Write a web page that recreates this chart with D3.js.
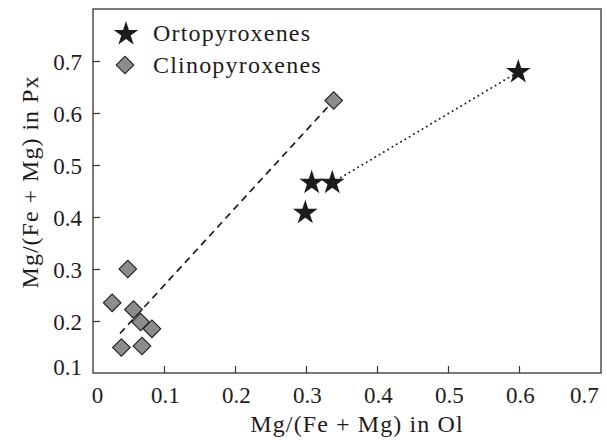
<!DOCTYPE html>
<html>
<head>
<meta charset="utf-8">
<script src="https://cdn.jsdelivr.net/npm/d3@7"></script>
<style>
  html, body { margin: 0; padding: 0; background: #fff; }
  svg text { font-family: "Liberation Serif", "Times New Roman", serif; fill: #1f1b1c; }
</style>
</head>
<body>
<svg id="chart" width="607" height="442"></svg>
<script>
// ---- data ----
const seriesNames = ["Ortopyroxenes", "Clinopyroxenes"];
const ortoX = [0.299, 0.308, 0.337, 0.599];
const ortoY = [0.408, 0.466, 0.466, 0.679];
const clinoX = [0.049, 0.027, 0.057, 0.067, 0.083, 0.040, 0.069, 0.339];
const clinoY = [0.300, 0.235, 0.222, 0.198, 0.185, 0.149, 0.152, 0.624];
const clinoFitX = [0.038, 0.339];
const clinoFitY = [0.176, 0.624];
const ortoFitX = [0.337, 0.599];
const ortoFitY = [0.466, 0.679];
const xTicks = [0, 0.1, 0.2, 0.3, 0.4, 0.5, 0.6, 0.7];
const yTicks = [0.1, 0.2, 0.3, 0.4, 0.5, 0.6, 0.7];
const xTitle = "Mg/(Fe + Mg) in Ol";
const yTitle = "Mg/(Fe + Mg) in Px";

// ---- layout ----
const svg = d3.select("#chart");
const mLeft = 93, mRight = 601, mTop = 9, mBottom = 373;
const x = d3.scaleLinear().domain([0, 0.7155]).range([mLeft, mRight]);
const y = d3.scaleLinear().domain([0.1, 0.8]).range([mBottom, mTop]);
const ink = "#1f1b1c";
const fmt = d => d === 0 ? "0" : d3.format(".1f")(d);

// frame
svg.append("rect")
  .attr("x", mLeft).attr("y", mTop)
  .attr("width", mRight - mLeft).attr("height", mBottom - mTop)
  .attr("fill", "none").attr("stroke", "#333").attr("stroke-width", 1.3);

// x axis (inward ticks)
const xAxis = d3.axisBottom(x).tickValues(xTicks).tickSizeInner(-7).tickSizeOuter(0).tickPadding(14).tickFormat(fmt);
const gx = svg.append("g").attr("transform", `translate(0,${mBottom})`).call(xAxis);
gx.select(".domain").remove();
gx.selectAll(".tick line").attr("stroke", "#333").attr("stroke-width", 1.2)
  .attr("display", d => (d > 0 && d < 0.65) ? null : "none");
gx.selectAll(".tick text").attr("font-size", 23).attr("fill", ink)
  .attr("font-family", "Liberation Serif")
  .attr("dx", d => d === 0 ? 4 : (d >= 0.7 ? -6 : 1));

// y axis (inward ticks)
const yAxis = d3.axisLeft(y).tickValues(yTicks).tickSizeInner(-7).tickSizeOuter(0).tickPadding(11).tickFormat(fmt);
const gy = svg.append("g").attr("transform", `translate(${mLeft},0)`).call(yAxis);
gy.select(".domain").remove();
gy.selectAll(".tick line").attr("stroke", "#333").attr("stroke-width", 1.2)
  .attr("display", d => d > 0.15 ? null : "none");
gy.selectAll(".tick text").attr("font-size", 23).attr("fill", ink)
  .attr("font-family", "Liberation Serif")
  .attr("dy", d => d < 0.15 ? "0.05em" : "0.35em");

// titles
svg.append("text")
  .attr("x", 357).attr("y", 432)
  .attr("text-anchor", "middle").attr("font-size", 24)
  .attr("letter-spacing", 1.1)
  .text(xTitle);
svg.append("text")
  .attr("transform", `translate(38,182) rotate(-90)`)
  .attr("text-anchor", "middle").attr("font-size", 24)
  .attr("letter-spacing", 1.0)
  .text(yTitle);

// fit lines
const line = d3.line().x(d => x(d[0])).y(d => y(d[1]));
svg.append("path")
  .attr("d", line(d3.zip(clinoFitX, clinoFitY)))
  .attr("fill", "none").attr("stroke", ink).attr("stroke-width", 1.7)
  .attr("stroke-dasharray", "7,5");
svg.append("path")
  .attr("d", line(d3.zip(ortoFitX, ortoFitY)))
  .attr("fill", "none").attr("stroke", ink).attr("stroke-width", 2)
  .attr("stroke-linecap", "round")
  .attr("stroke-dasharray", "0,5");

// markers
const star = d3.symbol().type(d3.symbolStar).size(190);
const diamond = d3.symbol().type(d3.symbolSquare).size(155);

svg.append("g").selectAll("path")
  .data(d3.zip(clinoX, clinoY))
  .join("path")
  .attr("d", diamond)
  .attr("transform", d => `translate(${x(d[0])},${y(d[1])}) rotate(45)`)
  .attr("fill", "#8c8c8c").attr("stroke", "#1e1e1e").attr("stroke-width", 1.1);

svg.append("g").selectAll("path")
  .data(d3.zip(ortoX, ortoY))
  .join("path")
  .attr("d", star)
  .attr("transform", d => `translate(${x(d[0])},${y(d[1])})`)
  .attr("fill", ink);

// legend
const legend = svg.append("g");
legend.append("path").attr("d", star)
  .attr("transform", "translate(126,34)").attr("fill", ink);
legend.append("path").attr("d", diamond)
  .attr("transform", "translate(125,65) rotate(45)")
  .attr("fill", "#8c8c8c").attr("stroke", "#1e1e1e").attr("stroke-width", 1.1);
legend.append("text").attr("x", 153).attr("y", 41)
  .attr("font-size", 24).attr("letter-spacing", 1.2).text(seriesNames[0]);
legend.append("text").attr("x", 153).attr("y", 73)
  .attr("font-size", 24).attr("letter-spacing", 1.2).text(seriesNames[1]);
</script>
</body>
</html>
